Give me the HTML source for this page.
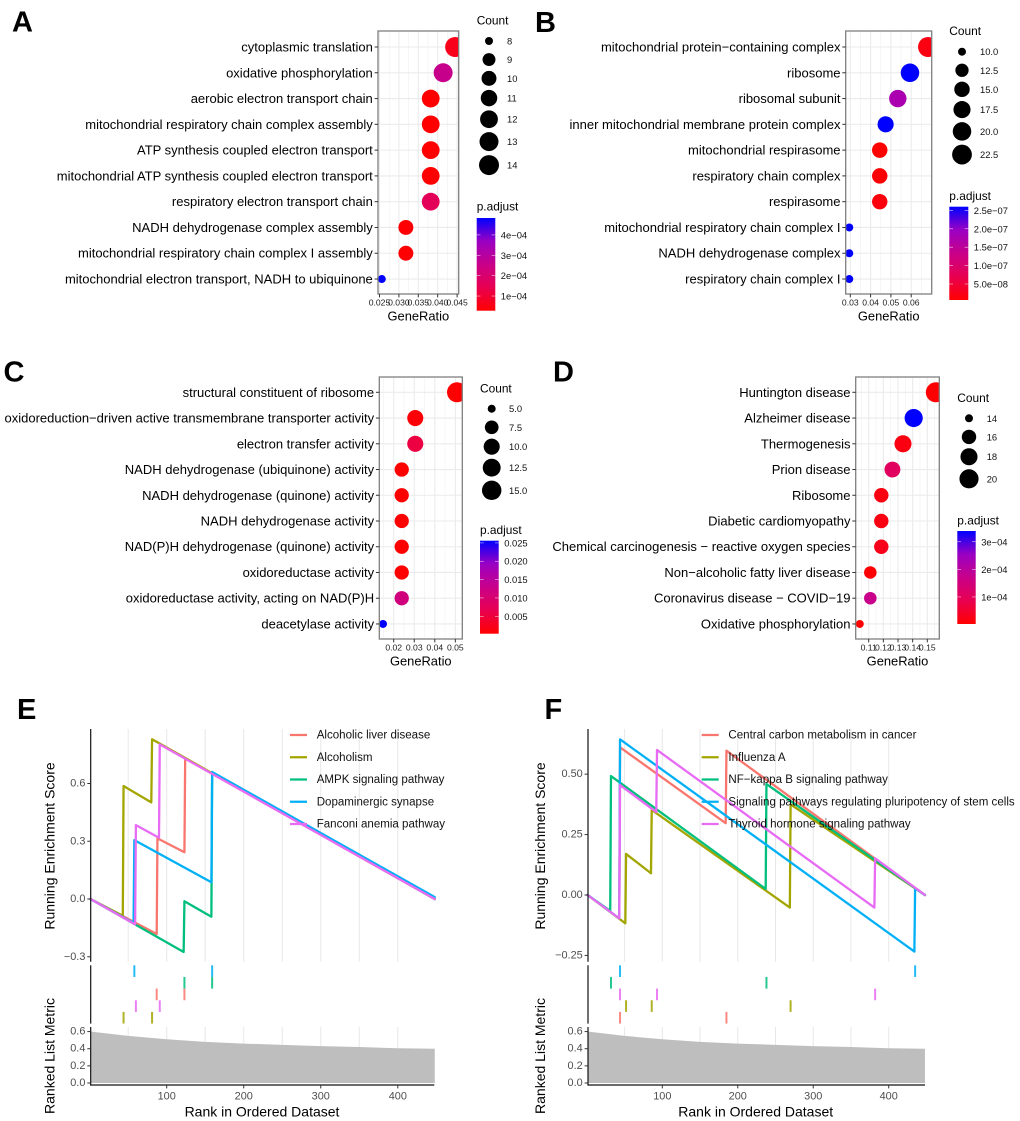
<!DOCTYPE html>
<html lang="en">
<head>
<meta charset="utf-8">
<title>Enrichment analysis figure</title>
<style>
html,body{margin:0;padding:0;background:#fff;}
#figure{display:block;width:1020px;height:1121px;background:#fff;font-family:"Liberation Sans",Arial,sans-serif;}
.panel-letter{font-size:29px;font-weight:bold;fill:#000;}
</style>
</head>
<body>
<svg id="figure" xmlns="http://www.w3.org/2000/svg" width="1020" height="1121" viewBox="0 0 1020 1121">
  <defs>
    <linearGradient id="pGradient" x1="0" y1="1" x2="0" y2="0">
      <stop offset="0" stop-color="#FF0000"/>
      <stop offset="0.25" stop-color="#E80050"/>
      <stop offset="0.5" stop-color="#C90089"/>
      <stop offset="0.75" stop-color="#9A00C3"/>
      <stop offset="1" stop-color="#0000FF"/>
    </linearGradient>
  </defs>
  <text class="panel-letter" x="12" y="31.7">A</text>
  <text class="panel-letter" x="535" y="32">B</text>
  <text class="panel-letter" x="3.5" y="381.5">C</text>
  <text class="panel-letter" x="553" y="381.5">D</text>
  <text class="panel-letter" x="17" y="719">E</text>
  <text class="panel-letter" x="544.5" y="719">F</text>
</svg>
<script>
// ---------- Panel A data ----------
const aTerms = ["cytoplasmic translation","oxidative phosphorylation","aerobic electron transport chain","mitochondrial respiratory chain complex assembly","ATP synthesis coupled electron transport","mitochondrial ATP synthesis coupled electron transport","respiratory electron transport chain","NADH dehydrogenase complex assembly","mitochondrial respiratory chain complex I assembly","mitochondrial electron transport, NADH to ubiquinone"];
const aRatios = [0.0445,0.0414,0.0382,0.0382,0.0382,0.0382,0.0382,0.0318,0.0318,0.0256];
const aCounts = [14,13,12,12,12,12,12,10,10,8];
const aPadjust = [0.65e-4,2.6e-4,0.28e-4,0.28e-4,0.28e-4,0.28e-4,1.6e-4,0.32e-4,0.32e-4,4.83e-4];
const aXTicks = [0.025,0.03,0.035,0.04,0.045];
const aXTickLabels = ["0.025","0.030","0.035","0.040","0.045"];
const aCountBreaks = [8,9,10,11,12,13,14];
const aCountLabels = ["8","9","10","11","12","13","14"];
const aPBreaks = [4e-4,3e-4,2e-4,1e-4];
const aPLabels = ["4e−04","3e−04","2e−04","1e−04"];

// ---------- Panel B data ----------
const bTerms = ["mitochondrial protein−containing complex","ribosome","ribosomal subunit","inner mitochondrial membrane protein complex","mitochondrial respirasome","respiratory chain complex","respirasome","mitochondrial respiratory chain complex I","NADH dehydrogenase complex","respiratory chain complex I"];
const bRatios = [0.0683,0.0594,0.0534,0.0474,0.0445,0.0445,0.0445,0.0295,0.0295,0.0295];
const bCounts = [23,20,18,16,15,15,15,10,10,10];
const bPadjust = [0.2e-7,2.6e-7,1.75e-7,2.6e-7,0.065e-7,0.1e-7,0.15e-7,2.6e-7,2.6e-7,2.6e-7];
const bXTicks = [0.03,0.04,0.05,0.06];
const bXTickLabels = ["0.03","0.04","0.05","0.06"];
const bCountBreaks = [10,12.5,15,17.5,20,22.5];
const bCountLabels = ["10.0","12.5","15.0","17.5","20.0","22.5"];
const bPBreaks = [2.5e-7,2e-7,1.5e-7,1e-7,0.5e-7];
const bPLabels = ["2.5e−07","2.0e−07","1.5e−07","1.0e−07","5.0e−08"];

// ---------- Panel C data ----------
const cTerms = ["structural constituent of ribosome","oxidoreduction−driven active transmembrane transporter activity","electron transfer activity","NADH dehydrogenase (ubiquinone) activity","NADH dehydrogenase (quinone) activity","NADH dehydrogenase activity","NAD(P)H dehydrogenase (quinone) activity","oxidoreductase activity","oxidoreductase activity, acting on NAD(P)H","deacetylase activity"];
const cRatios = [0.0508,0.0305,0.0305,0.0239,0.0239,0.0239,0.0239,0.0239,0.0239,0.0148];
const cCounts = [16,10,10,8,8,8,8,8,8,5];
const cPadjust = [0.0003,0.0008,0.0055,0.00025,0.00025,0.00025,0.00025,0.00025,0.0115,0.0256];
const cXTicks = [0.02,0.03,0.04,0.05];
const cXTickLabels = ["0.02","0.03","0.04","0.05"];
const cCountBreaks = [5,7.5,10,12.5,15];
const cCountLabels = ["5.0","7.5","10.0","12.5","15.0"];
const cPBreaks = [0.025,0.02,0.015,0.01,0.005];
const cPLabels = ["0.025","0.020","0.015","0.010","0.005"];

// ---------- Panel D data ----------
const dTerms = ["Huntington disease","Alzheimer disease","Thermogenesis","Prion disease","Ribosome","Diabetic cardiomyopathy","Chemical carcinogenesis − reactive oxygen species","Non−alcoholic fatty liver disease","Coronavirus disease − COVID−19","Oxidative phosphorylation"];
const dRatios = [0.1558,0.1407,0.1334,0.1262,0.1186,0.1186,0.1186,0.1111,0.1111,0.1039];
const dCounts = [21,19,18,17,16,16,16,15,15,14];
const dPadjust = [0.06e-4,3.39e-4,0.2e-4,1.05e-4,0.2e-4,0.2e-4,0.28e-4,0.06e-4,1.7e-4,0.02e-4];
const dXTicks = [0.11,0.12,0.13,0.14,0.15];
const dXTickLabels = ["0.11","0.12","0.13","0.14","0.15"];
const dCountBreaks = [14,16,18,20];
const dCountLabels = ["14","16","18","20"];
const dPBreaks = [3e-4,2e-4,1e-4];
const dPLabels = ["3e−04","2e−04","1e−04"];

// ---------- Shared GSEA data ----------
const seriesColors = ["#F8766D","#A3A500","#00BF7D","#00B0F6","#E76BF3"];
const gridRanks = [50,100,150,200,250,300,350,400];
const rankTicks = [100,200,300,400];
const metricRanks = [2,50,100,150,200,250,300,350,400,448];
const metricValues = [0.60,0.55,0.51,0.48,0.46,0.445,0.43,0.42,0.405,0.40];
const metricTicks = [0,0.2,0.4,0.6];
const metricTickLabels = ["0.0","0.2","0.4","0.6"];

// ---------- Panel E data ----------
const eNames = ["Alcoholic liver disease","Alcoholism","AMPK signaling pathway","Dopaminergic synapse","Fanconi anemia pathway"];
const eLiverRanks = [1,87,88,123,124,448];
const eLiverScores = [0,-0.182,0.315,0.243,0.73,0];
const eAlcoholismRanks = [1,43,44,80,81,448];
const eAlcoholismScores = [0,-0.087,0.587,0.502,0.83,0];
const eAmpkRanks = [1,122,123,158,159,448];
const eAmpkScores = [0,-0.275,-0.012,-0.092,0.656,0];
const eDopamineRanks = [1,57,58,158,159,448];
const eDopamineScores = [0,-0.125,0.306,0.087,0.66,0.01];
const eFanconiRanks = [1,59,60,90,91,448];
const eFanconiScores = [0,-0.132,0.384,0.318,0.803,0];
const eLiverHits = [87,123];
const eAlcoholismHits = [44,81];
const eAmpkHits = [123,159];
const eDopamineHits = [58,159];
const eFanconiHits = [60,91];
const eRugRows = [3,5,2,1,4];
const eScoreTicks = [0.6,0.3,0,-0.3];
const eScoreTickLabels = ["0.6","0.3","0.0","−0.3"];

// ---------- Panel F data ----------
const fNames = ["Central carbon metabolism in cancer","Influenza A","NF−kappa B signaling pathway","Signaling pathways regulating pluripotency of stem cells","Thyroid hormone signaling pathway"];
const fCarbonRanks = [1,43,44,184,185,448];
const fCarbonScores = [0,-0.097,0.611,0.297,0.597,0];
const fInfluenzaRanks = [1,51,52,85,86,269,270,448];
const fInfluenzaScores = [0,-0.117,0.17,0.09,0.352,-0.052,0.375,0];
const fNfkbRanks = [1,31,32,237,238,448];
const fNfkbScores = [0,-0.066,0.492,0.025,0.459,0];
const fStemRanks = [1,43,44,434,435,448];
const fStemScores = [0,-0.097,0.644,-0.234,0.028,0];
const fThyroidRanks = [1,43,44,92,93,381,382,448];
const fThyroidScores = [0,-0.097,0.455,0.343,0.6,-0.052,0.152,0];
const fCarbonHits = [44,185];
const fInfluenzaHits = [52,86,270];
const fNfkbHits = [32,238];
const fStemHits = [44,435];
const fThyroidHits = [44,93,382];
const fRugRows = [5,4,2,1,3];
const fScoreTicks = [0.5,0.25,0,-0.25];
const fScoreTickLabels = ["0.50","0.25","0.00","−0.25"];

// ---------- Helpers ----------
const NS = "http://www.w3.org/2000/svg";
const root = document.getElementById("figure");
const gradientStops = [[255,0,0],[232,0,80],[201,0,137],[154,0,195],[0,0,255]];

function add(tag, name, attrs, parent) {
  const el = document.createElementNS(NS, tag);
  
  
  for (const key of Object.keys(attrs)) { el.setAttribute(key, attrs[key]); }
  parent.appendChild(el);
  return el;
}
function addText(name, str, x, y, size, anchor, fill, parent, rotate) {
  const el = add("text", name, {x:x, y:y, "font-size":size, "text-anchor":anchor, fill:fill, "dominant-baseline":"central"}, parent);
  if (rotate) { el.setAttribute("transform", "rotate(" + rotate + " " + x + " " + y + ")"); }
  el.textContent = str;
  return el;
}
function gradientColor(t) {
  const u = Math.max(0, Math.min(1, t)) * (gradientStops.length - 1);
  const i = Math.min(gradientStops.length - 2, Math.floor(u));
  const f = u - i;
  const c = gradientStops[i].map(function (v, k) { return Math.round(v + (gradientStops[i + 1][k] - v) * f); });
  return "rgb(" + c.join(",") + ")";
}
let clipCounter = 0;

// ---------- Dot plot ----------
function drawDotPanel(p) {
  const g = add("g", "dotplot-panel-" + p.id, {}, root);
  const xScale = function (v) { return p.x0 + (v - p.tick0) * p.pxPerUnit; };
  const yScale = function (i) { return p.rowTop + i * p.rowStep; };
  const cMin = Math.min.apply(null, p.counts);
  const cMax = Math.max.apply(null, p.counts);
  const rScale = function (c) { return 4 + 6 * Math.sqrt((c - cMin) / (cMax - cMin)); };
  const pMin = Math.min.apply(null, p.padjust);
  const pMax = Math.max.apply(null, p.padjust);
  const tScale = function (v) { return (v - pMin) / (pMax - pMin); };

  // gridlines
  const step = p.xTicks[1] - p.xTicks[0];
  const grid = add("g", "gridlines", {}, g);
  for (let k = -1; k < p.xTicks.length; k++) {
    const mx = xScale(p.xTicks[0] + (k + 0.5) * step);
    if (mx > p.left && mx < p.right) {
      add("line", "minor-gridline", {x1:mx, x2:mx, y1:p.top, y2:p.bottom, stroke:"#f0f0f0", "stroke-width":0.6}, grid);
    }
  }
  p.xTicks.forEach(function (v) {
    const x = xScale(v);
    add("line", "major-gridline-x", {x1:x, x2:x, y1:p.top, y2:p.bottom, stroke:"#ebebeb", "stroke-width":1.1}, grid);
  });
  p.terms.forEach(function (t, i) {
    const y = yScale(i);
    add("line", "major-gridline-y", {x1:p.left, x2:p.right, y1:y, y2:y, stroke:"#ebebeb", "stroke-width":1.1}, grid);
  });

  // points (clipped to the panel)
  const clipId = "clip" + (clipCounter++);
  const clip = add("clipPath", "panel-clip", {id:clipId}, g);
  add("rect", "panel-clip-rect", {x:p.left, y:p.top, width:p.right - p.left, height:p.bottom - p.top}, clip);
  const pts = add("g", "points", {"clip-path":"url(#" + clipId + ")"}, g);
  p.terms.forEach(function (t, i) {
    add("circle", "point", {cx:xScale(p.ratios[i]), cy:yScale(i), r:rScale(p.counts[i]), fill:gradientColor(tScale(p.padjust[i]))}, pts);
  });

  // border
  add("rect", "panel-border", {x:p.left, y:p.top, width:p.right - p.left, height:p.bottom - p.top, fill:"none", stroke:"#7f7f7f", "stroke-width":1.3}, g);

  // y axis
  p.terms.forEach(function (t, i) {
    const y = yScale(i);
    add("line", "y-tick", {x1:p.left - 3.4, x2:p.left, y1:y, y2:y, stroke:"#333", "stroke-width":1}, g);
    addText("term-label", t, p.left - 5.2, y, 13, "end", "#000", g);
  });

  // x axis
  p.xTicks.forEach(function (v, i) {
    const x = xScale(v);
    add("line", "x-tick", {x1:x, x2:x, y1:p.bottom, y2:p.bottom + 3.4, stroke:"#333", "stroke-width":1}, g);
    addText("x-tick-label", p.xTickLabels[i], x, p.bottom + 8.7, 8.6, "middle", "#222", g);
  });
  addText("x-axis-title", "GeneRatio", (p.left + p.right) / 2, p.bottom + 22, 12.9, "middle", "#000", g);

  // count legend
  const cl = add("g", "count-legend", {}, g);
  addText("count-legend-title", "Count", p.legendX, p.countTitleY, 11.9, "start", "#000", cl);
  let yCursor = p.countFirstY;
  let prevH = null;
  p.countBreaks.forEach(function (c, i) {
    const r = rScale(c);
    const h = Math.max(18.6, 2 * r + 4);
    if (prevH !== null) { yCursor += (prevH + h) / 2; }
    prevH = h;
    add("circle", "count-legend-dot", {cx:p.countDotX, cy:yCursor, r:r, fill:"#000"}, cl);
    addText("count-legend-label", p.countLabels[i], p.countLabelX, yCursor, 9.4, "start", "#111", cl);
  });

  // colour bar
  const pl = add("g", "padjust-legend", {}, g);
  addText("padjust-legend-title", "p.adjust", p.legendX, p.pTitleY, 11.9, "start", "#000", pl);
  add("rect", "padjust-colorbar", {x:p.legendX, y:p.barTop, width:p.barW, height:p.barBottom - p.barTop, fill:"url(#pGradient)"}, pl);
  p.pBreaks.forEach(function (v, i) {
    const y = p.barBottom - tScale(v) * (p.barBottom - p.barTop);
    add("line", "colorbar-tick-left", {x1:p.legendX, x2:p.legendX + 3.7, y1:y, y2:y, stroke:"#fff", "stroke-width":0.6, opacity:0.8}, pl);
    add("line", "colorbar-tick-right", {x1:p.legendX + p.barW - 3.7, x2:p.legendX + p.barW, y1:y, y2:y, stroke:"#fff", "stroke-width":0.6, opacity:0.8}, pl);
    addText("colorbar-label", p.pLabels[i], p.legendX + p.barW + 5.5, y, 9.4, "start", "#111", pl);
  });
}

// ---------- GSEA plot ----------
function drawGseaPanel(p) {
  const g = add("g", "gsea-panel-" + p.id, {}, root);
  const xScale = function (r) { return p.x100 + (r - 100) * p.pxPerRank; };
  const yScale = function (s) { return p.y0 - s * p.pxPerScore; };
  const mScale = function (v) { return 1083 - v * 85.7; };
  const topY = 729, botY = 961.7, rugTop = 965.3, rowH = 11.65, metricTop = 1027, metricAxis = 1085;

  // grid
  gridRanks.forEach(function (r) {
    const x = xScale(r);
    add("line", "score-gridline", {x1:x, x2:x, y1:topY, y2:botY, stroke:"#e8e8e8", "stroke-width":1}, g);
    add("line", "metric-gridline", {x1:x, x2:x, y1:metricTop, y2:metricAxis - 2, stroke:"#e8e8e8", "stroke-width":1}, g);
  });

  // running score lines
  const lines = add("g", "running-score-lines", {}, g);
  p.seriesRanks.forEach(function (ranks, k) {
    const pts = ranks.map(function (r, i) { return xScale(r).toFixed(2) + "," + yScale(p.seriesScores[k][i]).toFixed(2); }).join(" ");
    add("polyline", "running-score-" + p.seriesSlugs[k], {points:pts, fill:"none", stroke:seriesColors[k], "stroke-width":2.3, "stroke-linejoin":"round", "stroke-linecap":"round"}, lines);
  });

  // axis lines and ticks
  add("line", "score-y-axis", {x1:p.axisX, x2:p.axisX, y1:topY, y2:botY, stroke:"#111", "stroke-width":1.2}, g);
  p.scoreTicks.forEach(function (s, i) {
    const y = yScale(s);
    add("line", "score-y-tick", {x1:p.axisX - 3.4, x2:p.axisX, y1:y, y2:y, stroke:"#333", "stroke-width":1}, g);
    addText("score-y-tick-label", p.scoreTickLabels[i], p.axisX - 5.3, y, 10.9, "end", "#4d4d4d", g);
  });
  addText("score-y-axis-title", "Running Enrichment Score", p.titleX, 846, 14, "middle", "#000", g, -90);

  // legend
  const lg = add("g", "series-legend", {}, g);
  p.names.forEach(function (n, k) {
    const y = 735 + k * 22.25;
    add("line", "legend-key-" + p.seriesSlugs[k], {x1:p.keyX, x2:p.keyX + 17, y1:y, y2:y, stroke:seriesColors[k], "stroke-width":2.3}, lg);
    addText("legend-entry-" + p.seriesSlugs[k], n, p.keyX + 26.7, y + 0.6, 11.55, "start", "#111", lg);
  });

  // rug
  add("line", "rug-y-axis", {x1:p.axisX, x2:p.axisX, y1:rugTop, y2:1023.6, stroke:"#111", "stroke-width":1.2}, g);
  p.seriesHits.forEach(function (hits, k) {
    const row = p.rugRows[k];
    hits.forEach(function (r) {
      const x = xScale(r);
      add("line", "rug-tick-" + p.seriesSlugs[k], {x1:x, x2:x, y1:rugTop + (row - 1) * rowH, y2:rugTop + row * rowH, stroke:seriesColors[k], "stroke-width":2, opacity:0.85}, g);
    });
  });

  // ranked metric
  const area = metricRanks.map(function (r, i) { return xScale(r).toFixed(2) + "," + mScale(metricValues[i]).toFixed(2); });
  area.push(xScale(metricRanks[metricRanks.length - 1]).toFixed(2) + "," + mScale(0).toFixed(2));
  area.push(xScale(metricRanks[0]).toFixed(2) + "," + mScale(0).toFixed(2));
  add("polygon", "ranked-metric-area", {points:area.join(" "), fill:"#bebebe"}, g);
  add("line", "metric-y-axis", {x1:p.axisX, x2:p.axisX, y1:metricTop, y2:metricAxis, stroke:"#111", "stroke-width":1.2}, g);
  add("line", "metric-x-axis", {x1:p.axisX - 0.6, x2:p.plotRight, y1:metricAxis, y2:metricAxis, stroke:"#111", "stroke-width":1.2}, g);
  metricTicks.forEach(function (v, i) {
    const y = mScale(v);
    add("line", "metric-y-tick", {x1:p.axisX - 3.4, x2:p.axisX, y1:y, y2:y, stroke:"#333", "stroke-width":1}, g);
    addText("metric-y-tick-label", metricTickLabels[i], p.axisX - 5.3, y, 10.9, "end", "#4d4d4d", g);
  });
  rankTicks.forEach(function (r) {
    const x = xScale(r);
    add("line", "rank-x-tick", {x1:x, x2:x, y1:metricAxis, y2:metricAxis + 3.4, stroke:"#333", "stroke-width":1}, g);
    addText("rank-x-tick-label", String(r), x, 1096.7, 10.9, "middle", "#4d4d4d", g);
  });
  addText("metric-y-axis-title", "Ranked List Metric", p.titleX, 1056, 14, "middle", "#000", g, -90);
  addText("rank-x-axis-title", "Rank in Ordered Dataset", p.xTitleX, 1111.7, 14, "middle", "#000", g);
}

// ---------- Build ----------
drawDotPanel({id:"a", terms:aTerms, ratios:aRatios, counts:aCounts, padjust:aPadjust,
  xTicks:aXTicks, xTickLabels:aXTickLabels, countBreaks:aCountBreaks, countLabels:aCountLabels, pBreaks:aPBreaks, pLabels:aPLabels,
  left:378, right:458.7, top:31, bottom:294, rowTop:47, rowStep:25.78, x0:379.5, tick0:0.025, pxPerUnit:3880,
  legendX:476.7, countTitleY:20.5, countFirstY:41, countDotX:489, countLabelX:507, pTitleY:206.7, barW:18.6, barTop:218, barBottom:310.7});
drawDotPanel({id:"b", terms:bTerms, ratios:bRatios, counts:bCounts, padjust:bPadjust,
  xTicks:bXTicks, xTickLabels:bXTickLabels, countBreaks:bCountBreaks, countLabels:bCountLabels, pBreaks:bPBreaks, pLabels:bPLabels,
  left:845.7, right:931.7, top:31, bottom:294, rowTop:47, rowStep:25.78, x0:850.3, tick0:0.03, pxPerUnit:2030,
  legendX:949.3, countTitleY:31, countFirstY:51.7, countDotX:962, countLabelX:980, pTitleY:196, barW:19, barTop:206.7, barBottom:300});
drawDotPanel({id:"c", terms:cTerms, ratios:cRatios, counts:cCounts, padjust:cPadjust,
  xTicks:cXTicks, xTickLabels:cXTickLabels, countBreaks:cCountBreaks, countLabels:cCountLabels, pBreaks:cPBreaks, pLabels:cPLabels,
  left:379.3, right:462.3, top:377, bottom:639, rowTop:392.3, rowStep:25.74, x0:393.7, tick0:0.02, pxPerUnit:2055,
  legendX:480, countTitleY:388.3, countFirstY:408.7, countDotX:491.7, countLabelX:509, pTitleY:530, barW:18.7, barTop:540.7, barBottom:633.7});
drawDotPanel({id:"d", terms:dTerms, ratios:dRatios, counts:dCounts, padjust:dPadjust,
  xTicks:dXTicks, xTickLabels:dXTickLabels, countBreaks:dCountBreaks, countLabels:dCountLabels, pBreaks:dPBreaks, pLabels:dPLabels,
  left:855.7, right:939.3, top:377, bottom:639, rowTop:392.3, rowStep:25.74, x0:868.7, tick0:0.11, pxPerUnit:1465,
  legendX:957.3, countTitleY:398, countFirstY:418.3, countDotX:969, countLabelX:986.7, pTitleY:520.7, barW:18.4, barTop:531, barBottom:624});

drawGseaPanel({id:"e", names:eNames, seriesSlugs:["alcoholic-liver-disease","alcoholism","ampk-signaling","dopaminergic-synapse","fanconi-anemia"],
  seriesRanks:[eLiverRanks,eAlcoholismRanks,eAmpkRanks,eDopamineRanks,eFanconiRanks],
  seriesScores:[eLiverScores,eAlcoholismScores,eAmpkScores,eDopamineScores,eFanconiScores],
  seriesHits:[eLiverHits,eAlcoholismHits,eAmpkHits,eDopamineHits,eFanconiHits], rugRows:eRugRows,
  scoreTicks:eScoreTicks, scoreTickLabels:eScoreTickLabels,
  x100:166.7, pxPerRank:0.7703, y0:899, pxPerScore:192.5, axisX:90.7, plotRight:434.3, keyX:290, titleX:49.5, xTitleX:262});
drawGseaPanel({id:"f", names:fNames, seriesSlugs:["central-carbon-metabolism","influenza-a","nf-kappa-b-signaling","pluripotency-signaling","thyroid-hormone-signaling"],
  seriesRanks:[fCarbonRanks,fInfluenzaRanks,fNfkbRanks,fStemRanks,fThyroidRanks],
  seriesScores:[fCarbonScores,fInfluenzaScores,fNfkbScores,fStemScores,fThyroidScores],
  seriesHits:[fCarbonHits,fInfluenzaHits,fNfkbHits,fStemHits,fThyroidHits], rugRows:fRugRows,
  scoreTicks:fScoreTicks, scoreTickLabels:fScoreTickLabels,
  x100:662.3, pxPerRank:0.7547, y0:895, pxPerScore:241.7, axisX:588, plotRight:925, keyX:701.7, titleX:540, xTitleX:755.7});
</script>
</body>
</html>
